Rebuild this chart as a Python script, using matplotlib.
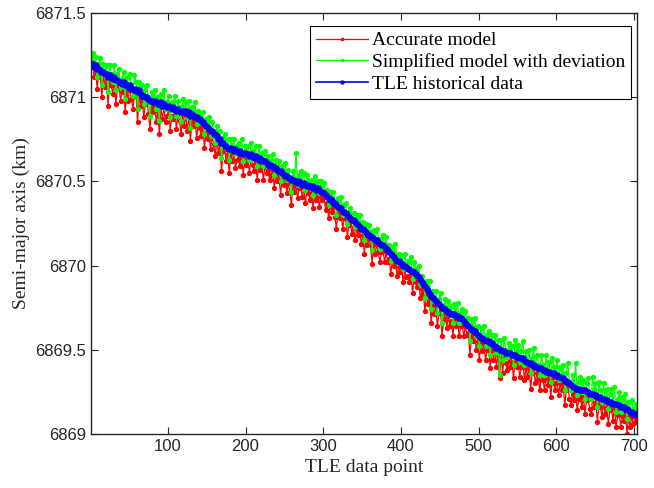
import numpy as np
import matplotlib
matplotlib.use("Agg")
import matplotlib.pyplot as plt
from matplotlib.ticker import FuncFormatter

BASE_KM = 6869.0

# TLE semi-major axis, cm above 6869 km, every 2nd TLE point (1, 3, 5, ...)
tle_cm = [
    220, 220, 218, 219, 217, 217, 216, 215, 215, 214,
    214, 212, 213, 212, 211, 212, 210, 210, 209, 209,
    208, 209, 207, 207, 206, 207, 205, 205, 204, 205,
    203, 204, 202, 201, 201, 200, 200, 199, 198, 198,
    197, 198, 197, 196, 196, 197, 195, 196, 195, 194,
    195, 194, 193, 194, 193, 192, 193, 192, 191, 192,
    191, 192, 190, 191, 189, 190, 189, 188, 188, 187,
    187, 186, 185, 184, 183, 182, 181, 180, 180, 178,
    178, 177, 175, 175, 173, 173, 171, 171, 170, 169,
    170, 169, 168, 169, 168, 167, 168, 167, 166, 167,
    166, 166, 165, 166, 165, 164, 165, 164, 163, 164,
    163, 162, 162, 161, 160, 160, 159, 159, 158, 158,
    157, 156, 156, 155, 154, 154, 153, 152, 152, 151,
    151, 150, 150, 149, 150, 149, 148, 149, 148, 147,
    148, 147, 146, 147, 146, 145, 146, 145, 144, 144,
    143, 142, 141, 140, 139, 139, 137, 137, 136, 135,
    134, 134, 132, 132, 131, 130, 129, 128, 127, 127,
    126, 125, 124, 123, 122, 122, 121, 120, 119, 118,
    117, 117, 116, 115, 115, 114, 113, 112, 112, 111,
    110, 109, 108, 107, 106, 105, 104, 103, 103, 102,
    101, 100, 100, 99, 98, 98, 97, 96, 96, 95,
    94, 93, 92, 90, 89, 88, 86, 85, 83, 82,
    81, 80, 79, 78, 77, 76, 75, 74, 74, 73,
    72, 72, 71, 71, 71, 70, 70, 69, 69, 68,
    67, 66, 65, 64, 63, 62, 62, 61, 60, 59,
    58, 57, 57, 56, 56, 55, 55, 54, 54, 53,
    52, 51, 51, 50, 50, 49, 49, 48, 48, 48,
    48, 47, 47, 47, 46, 46, 45, 45, 45, 44,
    43, 43, 42, 42, 41, 41, 40, 40, 39, 39,
    39, 38, 38, 37, 37, 37, 36, 36, 36, 35,
    35, 34, 34, 33, 33, 32, 31, 31, 30, 29,
    28, 28, 27, 27, 27, 26, 26, 26, 26, 25,
    25, 24, 24, 24, 23, 23, 22, 22, 22, 21,
    21, 20, 20, 19, 19, 19, 18, 18, 18, 17,
    17, 16, 16, 16, 15, 15, 14, 13, 13, 12,
    12, 12,
]

# accurate model minus TLE (cm)
acc_dev_cm = [
    -2, 1, -6, -3, -12, -2, -4, -15, -1, -8,
    -3, -17, -2, -5, -9, -1, -14, -4, -2, -11,
    -5, -2, -16, -3, -8, -1, -6, -12, -2, -4,
    -18, -3, -7, -2, -13, -4, -1, -9, -17, -3,
    -6, -2, -12, -4, -18, -3, -8, -2, -10, -5,
    -2, -14, -4, -7, -1, -11, -3, -6, -13, -2,
    -8, -3, -10, -2, -15, -4, -6, -1, -12, -3,
    -5, -9, -2, -14, -4, -7, -2, -11, -3, -6,
    -13, -2, -8, -3, -17, -5, -2, -9, -4, -14,
    -3, -7, -2, -11, -5, -3, -9, -2, -12, -4,
    -6, -3, -10, -2, -5, -8, -3, -13, -2, -7,
    -4, -11, -2, -6, -3, -9, -5, -2, -12, -3,
    -7, -2, -14, -4, -6, -2, -10, -3, -8, -15,
    -3, -6, -2, -9, -4, -2, -7, -3, -11, -2,
    -5, -8, -3, -13, -2, -6, -4, -10, -3, -5,
    -2, -9, -4, -12, -3, -7, -2, -8, -14, -3,
    -6, -2, -10, -4, -3, -13, -5, -2, -8, -4,
    -11, -3, -6, -2, -9, -4, -14, -3, -7, -2,
    -5, -16, -3, -8, -2, -6, -11, -4, -3, -9,
    -2, -7, -4, -12, -3, -5, -2, -9, -4, -6,
    -3, -10, -2, -6, -4, -8, -2, -12, -3, -5,
    -7, -2, -11, -4, -6, -15, -3, -8, -2, -16,
    -4, -9, -3, -14, -5, -2, -17, -6, -3, -10,
    -2, -8, -4, -13, -3, -6, -2, -11, -5, -3,
    -9, -2, -6, -4, -16, -3, -7, -2, -10, -4,
    -14, -3, -8, -2, -12, -5, -3, -15, -4, -9,
    -2, -11, -4, -17, -3, -13, -2, -6, -10, -3,
    -8, -4, -14, -2, -6, -3, -11, -5, -2, -12,
    -4, -9, -3, -15, -5, -2, -10, -4, -7, -13,
    -3, -6, -12, -2, -8, -4, -14, -3, -6, -9,
    -2, -11, -4, -7, -3, -15, -5, -2, -9, -12,
    -4, -8, -2, -13, -6, -3, -10, -4, -14, -5,
    -3, -9, -12, -2, -7, -4, -15, -3, -6, -11,
    -2, -8, -4, -13, -5, -3, -10, -2, -14, -6,
    -3, -12, -5, -8, -2, -15, -4, -9, -3, -6,
    -5, -2,
]

# simplified model (with deviation) minus TLE (cm)
simp_dev_cm = [
    4, 6, 1, 5, -5, 3, 7, -8, 5, 1,
    5, -9, 6, 2, -2, 7, -6, 4, 8, -3,
    3, 6, -8, 5, 0, 7, 2, -4, 9, 4,
    -10, 5, 1, 6, -5, 4, 7, -1, -9, 5,
    2, 6, -4, 4, -10, 5, 0, 8, -2, 3,
    6, -6, 4, 1, 8, -3, 5, 2, -5, 7,
    0, 5, -2, 7, -7, 4, 2, 9, -4, 5,
    3, -1, 6, -6, 4, 1, 7, -3, 5, 2,
    -5, 6, 0, 5, -9, 3, 7, -1, 5, -6,
    5, 1, 7, -3, 3, 6, -1, 8, -4, 4,
    2, 5, -2, 7, 3, 0, 6, -5, 8, 1,
    4, -3, 6, 2, 5, -1, 3, 7, -4, 5,
    1, 6, -6, 4, 2, 7, -2, 5, 0, -7,
    5, 2, 17, -1, 4, 7, 1, 6, -3, 7,
    3, 0, 5, -5, 7, 2, 4, -2, 6, 3,
    6, -1, 4, -4, 5, 1, 7, 0, -6, 5,
    2, 7, -2, 4, 6, -5, 3, 6, 0, 4,
    -3, 5, 2, 7, -1, 4, -6, 5, 1, 6,
    3, -8, 5, 0, 7, 2, -3, 4, 6, -1,
    7, 1, 4, -4, 5, 3, 9, -1, 4, 2,
    5, -2, 7, 2, 5, 0, 8, -4, 6, 3,
    1, 7, -3, 4, 2, -7, 5, 0, 8, -8,
    4, -1, 6, -6, 3, 8, -9, 2, 6, -2,
    7, 0, 5, -5, 6, 2, 8, -3, 3, 6,
    -1, 7, 2, 5, -8, 6, 1, 8, -2, 5,
    -6, 6, 0, 8, -4, 4, 6, -7, 5, -1,
    7, -3, 5, -15, 6, -5, 8, 2, -2, 6,
    1, 5, -6, 9, 3, 7, -2, 4, 10, -3,
    6, 0, 8, -6, 4, 10, -1, 7, 2, -4,
    8, 3, -3, 10, 1, 6, -5, 9, 4, 0,
    9, -2, 6, 2, 8, -6, 5, 11, 0, -3,
    7, 1, 15, -4, 4, 8, -1, 6, -5, 5,
    8, 0, -3, 10, 3, 7, -6, 9, 4, -2,
    9, 2, 7, -4, 5, 8, -1, 10, -5, 4,
    8, -3, 6, 1, 9, -6, 5, 0, 7, 3,
    3, 6,
]

tle = BASE_KM + np.array(tle_cm) / 100.0
accurate = tle + np.array(acc_dev_cm) / 100.0
simplified = tle + np.array(simp_dev_cm) / 100.0
x = np.arange(1, 2 * len(tle), 2)

fig = plt.figure(figsize=(6.54, 4.88), dpi=100)
ax = fig.add_axes([91 / 654, 54 / 488, 546 / 654, 421 / 488])

ax.plot(x, accurate, color="red", marker="o", markersize=2.8, linewidth=0.9,
        label="Accurate model")
ax.plot(x, simplified, color="#00ff00", marker="o", markersize=2.8, linewidth=0.9,
        label="Simplified model with deviation")
ax.plot(x, tle, color="blue", marker="o", markersize=3.6, linewidth=1.2,
        label="TLE historical data")

ax.set_xlim(1, 704)
ax.set_ylim(6869, 6871.5)
ax.set_xticks(range(100, 701, 100))
ax.set_yticks(np.arange(6869, 6871.51, 0.5))
ax.yaxis.set_major_formatter(FuncFormatter(lambda v, p: "%g" % v))

dark = (0.15, 0.15, 0.15)
for s in ax.spines.values():
    s.set_color(dark)
    s.set_linewidth(1.0)
ax.tick_params(direction="in", length=5, top=True, right=True,
               colors=dark, labelsize=12, labelfontfamily="Liberation Sans")

ax.set_xlabel("TLE data point", family="Liberation Serif", fontsize=14, color=dark)
ax.set_ylabel("Semi-major axis (km)", family="Liberation Serif", fontsize=14, color=dark)

leg = ax.legend(loc="upper right", bbox_to_anchor=((631 - 91) / 546, (434 - 26) / 421),
                borderaxespad=0, fancybox=False, framealpha=1, edgecolor="black",
                prop={"family": "Liberation Serif", "size": 14},
                handlelength=2.7, handletextpad=0.2, labelspacing=0.2, borderpad=0.3,
                markerscale=0.6)
leg.get_frame().set_linewidth(0.8)

fig.savefig("out.png", dpi=100)
